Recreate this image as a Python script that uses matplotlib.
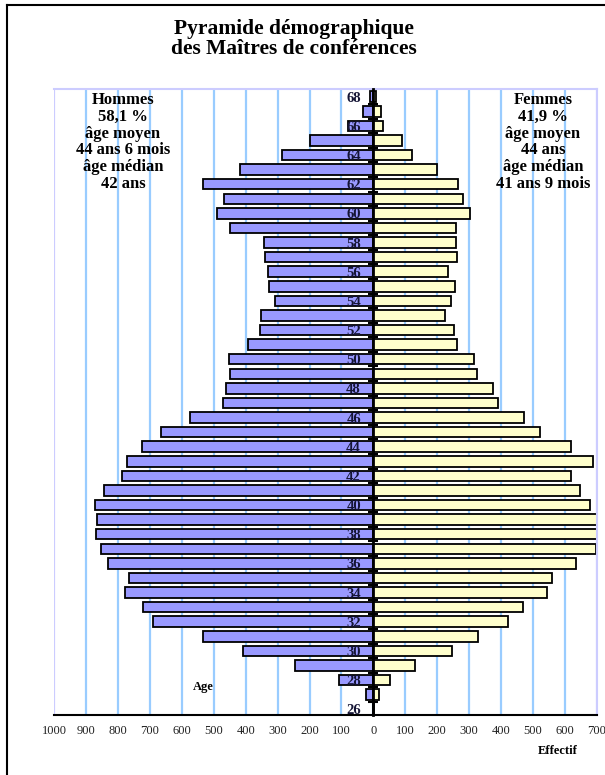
import matplotlib
matplotlib.use("Agg")
import matplotlib.pyplot as plt
from matplotlib.lines import Line2D
import numpy as np

# Ages 26 to 68, effectifs
ages = np.arange(26, 69)
hommes = np.array([2, 22, 109, 246, 409, 533, 691, 720, 779, 764,
                   830, 852, 869, 864, 871, 842, 788, 771, 723, 664,
                   574, 472, 462, 448, 453, 394, 355, 353, 308, 326,
                   331, 338, 341, 448, 489, 467, 533, 418, 285, 197,
                   81, 33, 10])
femmes = np.array([3, 19, 52, 129, 246, 326, 421, 467, 545, 560,
                   633, 697, 730, 725, 679, 647, 618, 689, 618, 523,
                   470, 389, 375, 324, 314, 263, 251, 224, 243, 255,
                   234, 263, 258, 260, 302, 280, 265, 200, 122, 90,
                   31, 24, 8])
xticks = np.arange(-1000, 701, 100)
age_labels = np.arange(26, 69, 2)

titre = "Pyramide démographique\ndes Maîtres de conférences"
txt_hommes = "Hommes\n58,1 %\nâge moyen\n44 ans 6 mois\nâge médian\n42 ans"
txt_femmes = "Femmes\n41,9 %\nâge moyen\n44 ans\nâge médian\n41 ans 9 mois"

plt.rcParams['font.family'] = ['Liberation Serif', 'DejaVu Serif']

W, H = 605, 775
fig = plt.figure(figsize=(W / 100, H / 100), dpi=100)
ax = fig.add_axes([54 / W, 1 - 715 / H, (597 - 54) / W, (715 - 89) / H])

# grid lines (lavender at the outer edges)
for xv in xticks:
    col = '#ccccff' if xv in (xticks[0], xticks[-1]) else '#99ccff'
    ax.axvline(xv, color=col, lw=1.6, zorder=0)

ax.barh(ages, -hommes, height=0.72, color='#9999ff', edgecolor='black',
        linewidth=1.3, zorder=2)
ax.barh(ages, femmes, height=0.72, color='#ffffcc', edgecolor='black',
        linewidth=1.3, zorder=2)

ax.set_xlim(-1000, 700)
ax.set_ylim(25.6, 68.53)

ax.set_xticks(xticks)
ax.set_xticklabels([str(abs(v)) for v in xticks], fontsize=9, color='#222222')
ax.tick_params(axis='x', length=0, pad=7)

ax.spines['left'].set_position(('data', 0))
ax.spines['left'].set_linewidth(2)
ax.spines['left'].set_zorder(3)
ax.spines['bottom'].set_linewidth(1.5)
ax.spines['top'].set_color('#ccccff')
ax.spines['right'].set_color('#ccccff')
ax.spines['top'].set_linewidth(1.5)
ax.spines['right'].set_linewidth(1.5)

ax.set_yticks(age_labels)
ax.set_yticklabels([str(a) for a in age_labels], fontsize=10.5,
                   fontweight='bold', color='#151535')
ax.set_yticks(np.arange(26.5, 68, 1), minor=True)
ax.tick_params(axis='y', which='major', length=0, pad=9)
ax.tick_params(axis='y', which='minor', length=7, width=1.5,
               direction='inout', color='black')
ax.yaxis.set_zorder(4)

fig.text(294 / W, 1 - 39 / H, titre, ha='center', va='center',
         fontsize=15.5, fontweight='bold', linespacing=1.05)
fig.text(123 / W, 1 - 142 / H, txt_hommes, ha='center', va='center',
         fontsize=12, fontweight='bold', linespacing=1.05)
fig.text(543 / W, 1 - 142 / H, txt_femmes, ha='center', va='center',
         fontsize=12, fontweight='bold', linespacing=1.05)
fig.text(203 / W, 1 - 687 / H, "Age", ha='center', va='center',
         fontsize=9, fontweight='bold')
fig.text(558 / W, 1 - 751 / H, "Effectif", ha='center', va='center',
         fontsize=9, fontweight='bold')

# page border
fig.add_artist(Line2D([7 / W, 7 / W], [0, 1 - 5 / H], color='black', lw=1.5))
fig.add_artist(Line2D([7 / W, 1], [1 - 5 / H, 1 - 5 / H], color='black', lw=1.5))

fig.savefig("out.png", dpi=100)
